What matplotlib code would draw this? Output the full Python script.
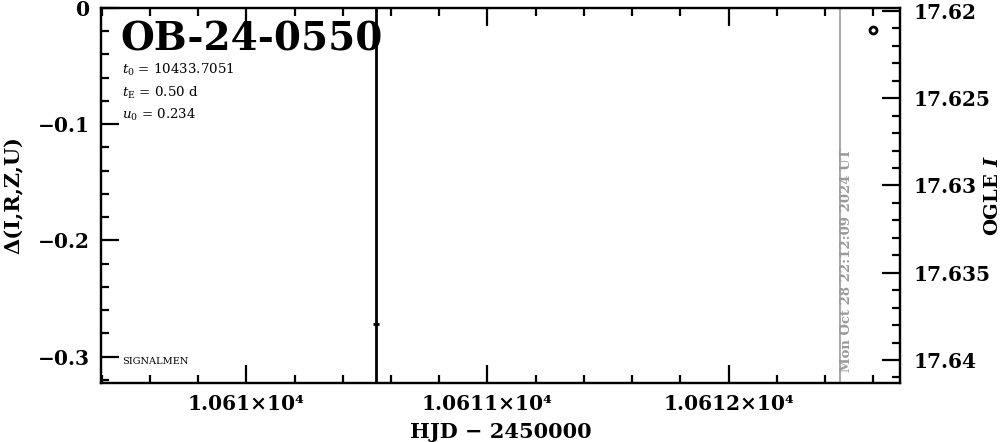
import matplotlib
matplotlib.use("Agg")
import matplotlib.pyplot as plt
from matplotlib.ticker import MultipleLocator

# ---- data ----
event_name = "OB-24-0550"
t0_text = "10433.7051"
tE_text = "0.50"
u0_text = "0.234"
date_text = "Mon Oct 28 22:12:09 2024 UT"

ogle_hjd = [10612.60]
ogle_mag = [17.6211]
delta_hjd = [10610.537]
delta_val = [-0.2716]
marker_line_hjd = 10610.537
now_hjd = 10612.463

xlim = (10609.397, 10612.711)
ylim_left = (-0.3226, 0.0)
ylim_right = (17.64132, 17.61983)

x_major = [10610, 10611, 10612]
x_labels = ["1.061×10⁴", "1.0611×10⁴", "1.0612×10⁴"]
yl_major = [0, -0.1, -0.2, -0.3]
yl_labels = ["0", "−0.1", "−0.2", "−0.3"]
yr_major = [17.62, 17.625, 17.63, 17.635, 17.64]
yr_labels = ["17.62", "17.625", "17.63", "17.635", "17.64"]

plt.rcParams['font.family'] = ['DejaVu Serif']
plt.rcParams['mathtext.fontset'] = 'dejavuserif'

fig = plt.figure(figsize=(10.04, 4.42), dpi=100)
ax = fig.add_axes([101/1004, 1-383/442, 799/1004, 375/442])
ax2 = ax.twinx()

lw = 1.6
for a in (ax, ax2):
    for s in a.spines.values():
        s.set_linewidth(lw)

ax.set_xlim(*xlim)
ax.set_ylim(*ylim_left)
ax2.set_ylim(*ylim_right)

ax.set_xticks(x_major)
ax.set_xticklabels(x_labels)
ax.xaxis.set_minor_locator(MultipleLocator(0.2))
ax.set_yticks(yl_major)
ax.set_yticklabels(yl_labels)
ax.yaxis.set_minor_locator(MultipleLocator(0.02))
ax2.set_yticks(yr_major)
ax2.set_yticklabels(yr_labels)
ax2.yaxis.set_minor_locator(MultipleLocator(0.001))

ax.tick_params(axis='both', which='major', direction='in', length=13, width=lw,
               top=True, right=False, labelsize=14.5, pad=8)
ax.tick_params(axis='both', which='minor', direction='in', length=6, width=lw,
               top=True, right=False)
ax2.tick_params(axis='y', which='major', direction='in', length=13, width=lw, labelsize=14.5, pad=10)
ax2.tick_params(axis='y', which='minor', direction='in', length=6, width=lw)
for lab in ax.get_xticklabels() + ax.get_yticklabels() + ax2.get_yticklabels():
    lab.set_fontweight('bold')

ax.set_xlabel("HJD − 2450000", fontsize=15, fontweight='bold', labelpad=6)
ax.set_ylabel("Δ(I,R,Z,U)", fontsize=15, fontweight='bold', ha='center', va='center')
ax.yaxis.set_label_coords((14 - 101) / 799, 0.5)
ax2.set_ylabel("OGLE $\\mathbfit{I}$", fontsize=14, fontweight='bold', ha='center', va='center')
ax2.yaxis.set_label_coords((993 - 101) / 799, 0.5)

# vertical lines
ax.axvline(marker_line_hjd, color='black', lw=2)
ax.axvline(now_hjd, color='#999999', lw=1.2)

# data
ax.plot(delta_hjd, delta_val, marker='_', ms=5, mew=2, color='black', ls='none')
ax2.plot(ogle_hjd, ogle_mag, marker='o', ms=5, mfc='white', mec='black', mew=2, ls='none')

# texts
ax.text(0.024, 0.915, event_name, transform=ax.transAxes, fontsize=28,
        fontweight='bold', va='center', ha='left')
ax.text(0.026, 0.835, f"$t_0$ = {t0_text}", transform=ax.transAxes, fontsize=9.6, va='center')
ax.text(0.026, 0.773, f"$t_\\mathrm{{E}}$ = {tE_text} d", transform=ax.transAxes, fontsize=9.6, va='center')
ax.text(0.026, 0.715, f"$u_0$ = {u0_text}", transform=ax.transAxes, fontsize=9.6, va='center')
ax.text(0.026, 0.056, "SIGNALMEN", transform=ax.transAxes, fontsize=7, va='center')

ax.text(now_hjd + 0.025, -0.3133, date_text, rotation=90, color='#999999',
        fontsize=9.5, fontweight='bold', va='bottom', ha='center')

fig.savefig("out.png", dpi=100)
